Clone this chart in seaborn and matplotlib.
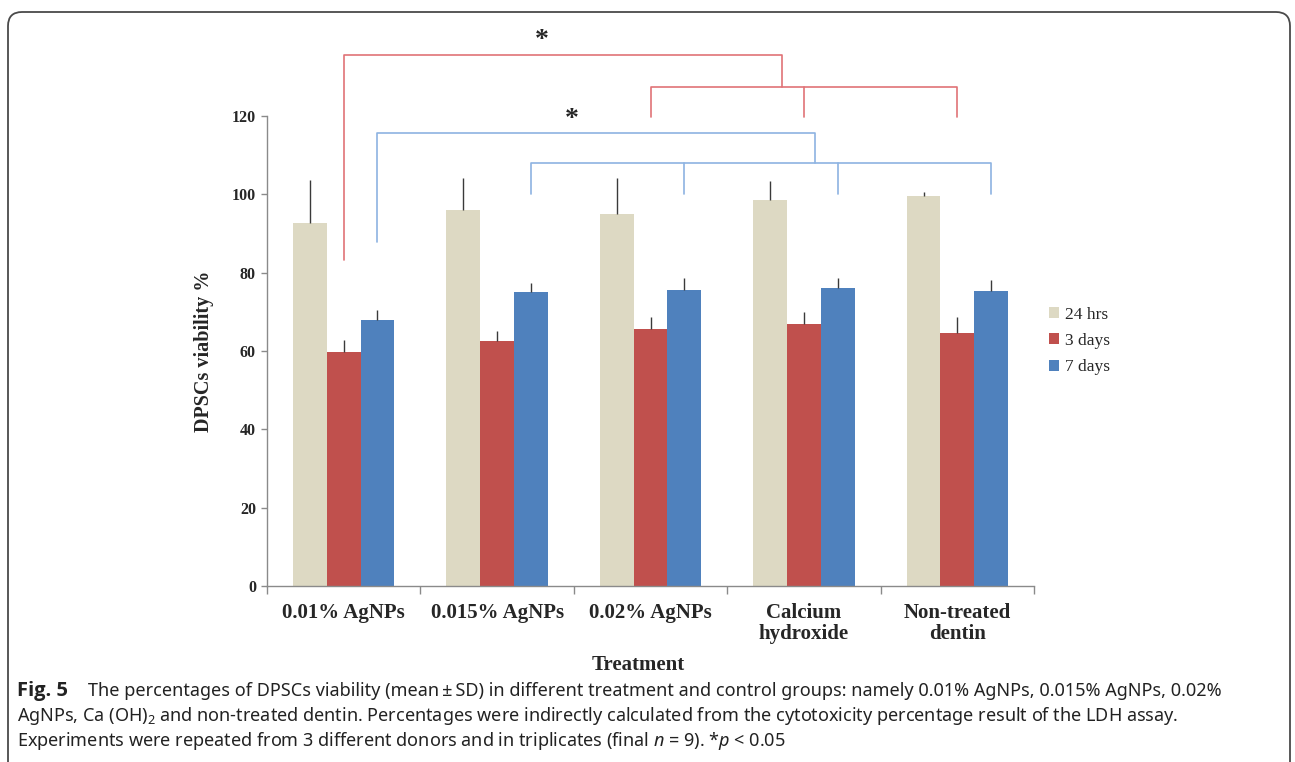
import matplotlib
matplotlib.use('Agg')
import matplotlib.pyplot as plt
import seaborn as sns
import numpy as np
import pandas as pd
from matplotlib.patches import FancyBboxPatch

groups = ['0.01% AgNPs', '0.015% AgNPs', '0.02% AgNPs', 'Calcium\nhydroxide', 'Non-treated\ndentin']
times = ['24 hrs', '3 days', '7 days']
mean_24h = [92.7, 96.0, 95.0, 98.5, 99.6]
mean_3d = [59.7, 62.5, 65.6, 66.9, 64.6]
mean_7d = [67.9, 75.1, 75.6, 76.1, 75.3]
sd_24h = [10.9, 8.2, 9.2, 4.9, 1.0]
sd_3d = [3.1, 2.6, 3.1, 3.1, 4.1]
sd_7d = [2.6, 2.3, 3.0, 2.5, 2.8]
kleuren = ['#DDD9C3', '#C0504D', '#4F81BD']

df = pd.DataFrame({
    'Treatment': groups * 3,
    'Tijd': np.repeat(times, len(groups)),
    'Viability': mean_24h + mean_3d + mean_7d,
})
sds = [sd_24h, sd_3d, sd_7d]

sns.set_style('white')
plt.rcParams['font.family'] = ['Liberation Serif', 'DejaVu Serif']
plt.rcParams['mathtext.fontset'] = 'custom'
plt.rcParams['mathtext.rm'] = 'Noto Sans'
plt.rcParams['mathtext.it'] = 'Noto Sans:italic'

fig = plt.figure(figsize=(12.95, 7.62), dpi=100)
ax = fig.add_axes([267 / 1295, 1 - 586 / 762, 767 / 1295, 470 / 762])

sns.barplot(data=df, x='Treatment', y='Viability', hue='Tijd', order=groups, hue_order=times,
            palette=kleuren, width=0.66, errorbar=None, saturation=1, ax=ax, legend=True,
            linewidth=0, edgecolor='none')

# alleen bovenste foutbalk, zonder kapjes
for cont, sd in zip(ax.containers, sds):
    xs = [b.get_x() + b.get_width() / 2 for b in cont]
    ys = [b.get_height() for b in cont]
    ax.errorbar(xs, ys, yerr=[np.zeros(len(sd)), sd], fmt='none', ecolor='#3a3a3a', elinewidth=1, capsize=0)

ax.set_xlim(-0.5, 4.5)
ax.set_ylim(0, 120)
ax.set_yticks(range(0, 121, 20))
ax.set_xticks(range(len(groups)))
ax.set_xticks(np.arange(-0.5, 4.6, 1), minor=True)
ax.set_xticklabels(groups, fontsize=15, fontweight='bold', linespacing=1.1)
ax.set_yticklabels([str(v) for v in range(0, 121, 20)], fontsize=11.5, fontweight='bold')
ax.tick_params(axis='x', which='major', length=0, pad=12)
ax.tick_params(axis='x', which='minor', length=6, color='#8a8a8a', width=1, direction='out', bottom=True)
ax.tick_params(axis='y', length=4, color='#8a8a8a', width=1, direction='out', left=True, pad=4)
for s in ['top', 'right']:
    ax.spines[s].set_visible(False)
for s in ['left', 'bottom']:
    ax.spines[s].set_color('#8a8a8a')
    ax.spines[s].set_linewidth(1)

ax.set_xlabel('Treatment', fontsize=15, fontweight='bold')
ax.xaxis.set_label_coords((638 - 267) / 767, -0.146)
ax.set_ylabel('DPSCs viability %', fontsize=14.5, fontweight='bold', labelpad=13)

leg = ax.legend(loc='center left', bbox_to_anchor=(1042 / 1295, 1 - 341 / 762), bbox_transform=fig.transFigure,
                frameon=False, fontsize=12.5, handlelength=0.6, handleheight=0.6, handletextpad=0.3,
                labelspacing=0.6, borderaxespad=0)

# significantie-haken
def centers(hue_i):
    return [b.get_x() + b.get_width() / 2 for b in ax.containers[hue_i]]

rood = '#E07377'
blauw = '#8DB3E2'
c3 = centers(1)
c7 = centers(2)

def haak(xa, xb, y_top, y_a, y_b, kleur):
    ax.plot([xa, xa, xb, xb], [y_a, y_top, y_top, y_b], color=kleur, lw=1.2, clip_on=False)

# rood: 0.01% (3 dagen) tegen 0.02%, Ca(OH)2, onbehandeld
haak(c3[2], c3[4], 127.4, 119.7, 119.7, rood)
ax.plot([c3[3], c3[3]], [127.4, 119.7], color=rood, lw=1.2, clip_on=False)
haak(c3[0], 2.86, 135.6, 83.2, 127.4, rood)
ax.text(1.29, 136.0, '*', ha='center', va='bottom', fontsize=20, fontweight='bold', clip_on=False)

# blauw: 0.01% (7 dagen) tegen de rest
haak(c7[1], c7[4], 108.0, 100.1, 100.1, blauw)
for xi in [c7[2], c7[3]]:
    ax.plot([xi, xi], [108.0, 100.1], color=blauw, lw=1.2, clip_on=False)
haak(c7[0], 3.07, 115.6, 87.8, 108.0, blauw)
ax.text(1.49, 116.0, '*', ha='center', va='bottom', fontsize=20, fontweight='bold', clip_on=False)

# kader en onderschrift
kader = FancyBboxPatch((0.08, -0.15), 12.82, 7.65, boxstyle='round,pad=0,rounding_size=0.14',
                       transform=fig.dpi_scale_trans, facecolor='none', edgecolor='#4a4a4a', lw=1.3)
fig.patches.append(kader)

cap_font = ['Noto Sans', 'DejaVu Sans']
fs = 13
kleur_txt = '#222222'
fig.text(17 / 1295, 1 - 691 / 762, 'Fig. 5', family=['Open Sans', 'DejaVu Sans'], fontweight='bold', fontsize=14.5,
         va='center', ha='left', color=kleur_txt)
fig.text(88 / 1295, 1 - 691 / 762,
         'The percentages of DPSCs viability (mean\u2009\u00b1\u2009SD) in different treatment and control groups: namely 0.01% AgNPs, 0.015% AgNPs, 0.02%',
         family=cap_font, fontsize=fs, va='center', ha='left', color=kleur_txt)
fig.text(17 / 1295, 1 - 716 / 762,
         r'AgNPs, Ca (OH)$_2$ and non-treated dentin. Percentages were indirectly calculated from the cytotoxicity percentage result of the LDH assay.',
         family=cap_font, fontsize=fs, va='center', ha='left', color=kleur_txt)
fig.text(17 / 1295, 1 - 741 / 762,
         r'Experiments were repeated from 3 different donors and in triplicates (final $n$ = 9). *$p$ < 0.05',
         family=cap_font, fontsize=fs, va='center', ha='left', color=kleur_txt)

fig.savefig('out.png', dpi=100)
